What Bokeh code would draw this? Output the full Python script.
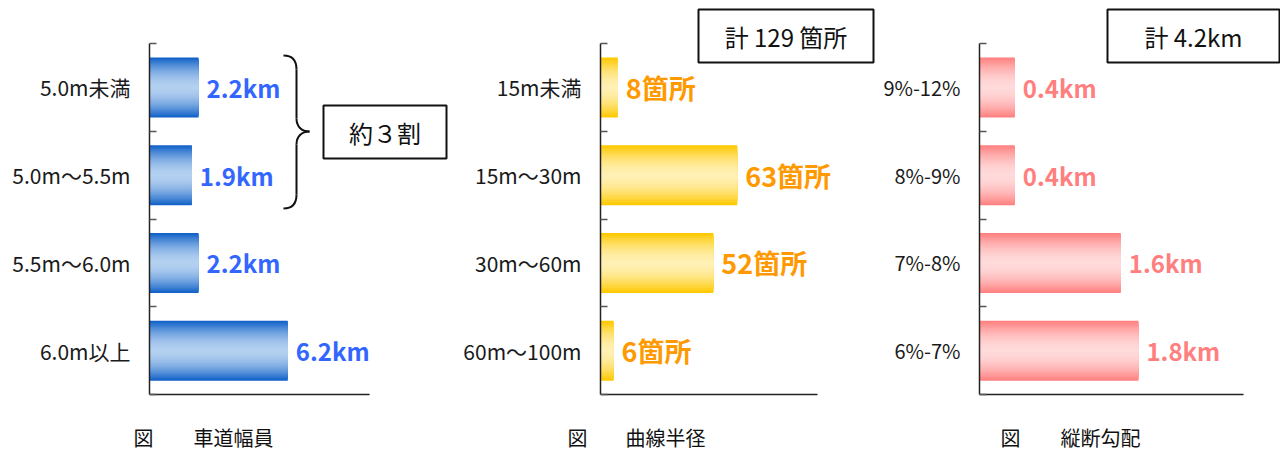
import numpy as np
from bokeh.plotting import figure
from bokeh.layouts import row, column
from bokeh.models import Range1d, FixedTicker
from bokeh.core.properties import value
from bokeh.embed import file_html
from bokeh.resources import INLINE

# ---------------- data ----------------
width_cats = ["5.0m未満", "5.0m～5.5m", "5.5m～6.0m", "6.0m以上"]
width_vals = [2.2, 1.9, 2.2, 6.2]
width_labels = ["2.2km", "1.9km", "2.2km", "6.2km"]

radius_cats = ["15m未満", "15m～30m", "30m～60m", "60m～100m"]
radius_vals = [8, 63, 52, 6]
radius_labels = ["8箇所", "63箇所", "52箇所", "6箇所"]

grade_cats = ["9%-12%", "8%-9%", "7%-8%", "6%-7%"]
grade_vals = [0.4, 0.4, 1.6, 1.8]
grade_labels = ["0.4km", "0.4km", "1.6km", "1.8km"]

captions = [("図", "車道幅員"), ("図", "曲線半径"), ("図", "縦断勾配")]
box_texts = ["約３割", "計 129 箇所", "計 4.2km"]

# ---------------- layout ----------------
FONT = "Noto Sans CJK JP"
FIG_TOP, FIG_H = 0, 404
CAP_H = 48
AX_TOP, BAND = 43, 87.75
BAR_H = 60 / BAND
Y_TOP = -0.5 - (AX_TOP - FIG_TOP) / BAND
Y_BOT = 3.5 + (FIG_TOP + FIG_H - (AX_TOP + 4 * BAND)) / BAND


def py2y(py):
    return (py - AX_TOP) / BAND - 0.5


def hex2rgb(h):
    h = h.lstrip("#")
    return np.array([int(h[i:i + 2], 16) for i in (0, 2, 4)], dtype=float)


def rgb2hex(c):
    c = np.clip(np.round(c), 0, 255).astype(int)
    return "#%02x%02x%02x" % tuple(c)


def make_panel(cats, vals, labels, fig_left, fig_w, axis_px, scale, axis_max,
               edge, center, label_color, tick_size, label_size):
    frame_w = fig_left + fig_w - axis_px
    p = figure(width=fig_w, height=FIG_H,
               x_range=Range1d(0, frame_w / scale),
               y_range=Range1d(Y_BOT, Y_TOP),
               output_backend="svg", toolbar_location=None,
               x_axis_location=None,
               min_border_left=axis_px - fig_left, min_border_right=0,
               min_border_top=0, min_border_bottom=0)
    p.outline_line_color = None
    p.grid.visible = False
    p.background_fill_color = "white"
    p.border_fill_color = "white"

    ax = p.yaxis[0]
    n = len(cats)
    ax.ticker = FixedTicker(ticks=list(range(n)),
                            minor_ticks=[i - 0.5 for i in range(n + 1)])
    ax.major_label_overrides = {i: c for i, c in enumerate(cats)}
    ax.bounds = (-0.5, n - 0.5)
    ax.major_tick_in = 0
    ax.major_tick_out = 0
    ax.minor_tick_in = 7
    ax.minor_tick_out = 0
    ax.minor_tick_line_color = "#555555"
    ax.minor_tick_line_width = 1.5
    ax.axis_line_color = "#222222"
    ax.axis_line_width = 1.5
    ax.major_label_standoff = 19
    ax.major_label_text_font = FONT
    ax.major_label_text_font_size = tick_size
    ax.major_label_text_color = "#1a1a1a"

    # bottom axis line
    p.segment(x0=[0], y0=[n - 0.5], x1=[axis_max], y1=[n - 0.5],
              line_color="#222222", line_width=1.5)

    # gradient bars: nested layers, edge colour outside -> light centre
    e, c = hex2rgb(edge), hex2rgb(center)
    M = 24
    L, R, T, B, C = [], [], [], [], []
    for k in range(M):
        s = 1 - k / M
        w = s ** 1.8
        col = rgb2hex(c + (e - c) * w)
        half = (BAR_H / 2) * s
        for i, v in enumerate(vals):
            L.append(0)
            R.append(v)
            T.append(i - half)
            B.append(i + half)
            C.append(col)
    p.quad(left=L, right=R, top=T, bottom=B, fill_color=C, line_color=None)

    p.text(x=vals, y=list(range(n)), text=labels, x_offset=8,
           text_align="left", text_baseline="middle",
           text_font=value(FONT), text_font_style="bold",
           text_font_size=label_size, text_color=label_color)
    return p


P = [
    dict(fig_left=0, fig_w=455, axis_px=149, scale=22.3, axis_max=9.87),
    dict(fig_left=455, fig_w=420, axis_px=600, scale=2.17, axis_max=100),
    dict(fig_left=875, fig_w=405, axis_px=979, scale=88.3, axis_max=2.99),
]

p1 = make_panel(width_cats, width_vals, width_labels, edge="#1262c8",
                center="#b4d0f0", label_color="#3366ff", tick_size="21px",
                label_size="24px", **P[0])
p2 = make_panel(radius_cats, radius_vals, radius_labels, edge="#ffc800",
                center="#fff0b4", label_color="#ff9900", tick_size="21px",
                label_size="27px", **P[1])
p3 = make_panel(grade_cats, grade_vals, grade_labels, edge="#ff8080",
                center="#ffdada", label_color="#ff7f7f", tick_size="20px",
                label_size="24px", **P[2])
panels = [p1, p2, p3]


def X(i, px):
    return (px - P[i]["axis_px"]) / P[i]["scale"]


# text boxes (pixel extents -> data coords)
boxes = [(0, 323, 446, 105, 158), (1, 698, 873, 9, 62), (2, 1107, 1279, 9, 62)]
for (i, x0, x1, y0, y1), txt in zip(boxes, box_texts):
    p = panels[i]
    p.quad(left=[X(i, x0)], right=[X(i, x1)], top=[py2y(y0)], bottom=[py2y(y1)],
           fill_color="white", line_color="#111111", line_width=2)
    p.text(x=[X(i, (x0 + x1) / 2)], y=[py2y((y0 + y1) / 2)], text=[txt],
           text_align="center", text_baseline="middle",
           text_font=value(FONT), text_font_size="24px", text_color="#111111")

# brace in panel 1
bx = lambda px: X(0, px)
segs = [((283, 55), (293, 55), (296, 61), (296, 69)),
        ((296, 118), (296, 126), (301, 131), (309, 131)),
        ((309, 131), (301, 131), (296, 136), (296, 144)),
        ((296, 194), (296, 202), (293, 208), (283, 208))]
p1.bezier(x0=[bx(s[0][0]) for s in segs], y0=[py2y(s[0][1]) for s in segs],
          cx0=[bx(s[1][0]) for s in segs], cy0=[py2y(s[1][1]) for s in segs],
          cx1=[bx(s[2][0]) for s in segs], cy1=[py2y(s[2][1]) for s in segs],
          x1=[bx(s[3][0]) for s in segs], y1=[py2y(s[3][1]) for s in segs],
          line_color="#111111", line_width=2)
p1.segment(x0=[bx(296), bx(296)], y0=[py2y(69), py2y(144)],
           x1=[bx(296), bx(296)], y1=[py2y(118), py2y(194)],
           line_color="#111111", line_width=2)

# caption strip below the three panels (pixel coordinates)
W_TOTAL = sum(d["fig_w"] for d in P)
cap = figure(width=W_TOTAL, height=CAP_H,
             x_range=Range1d(0, W_TOTAL), y_range=Range1d(FIG_H + CAP_H, FIG_H),
             output_backend="svg", toolbar_location=None,
             x_axis_location=None, y_axis_location=None,
             min_border=0)
cap.outline_line_color = None
cap.grid.visible = False
cap_px = [(133, 193), (567, 625), (1000, 1060)]
cx, ct = [], []
for (a, b), (xa, xb) in zip(captions, cap_px):
    cx += [xa, xb]
    ct += [a, b]
cap.text(x=cx, y=[437] * len(cx), text=ct, text_align="left",
         text_baseline="middle", text_font=value(FONT),
         text_font_size="20px", text_color="#111111")

layout = column(row(p1, p2, p3), cap)
open("out.html", "w").write(file_html(layout, INLINE))
